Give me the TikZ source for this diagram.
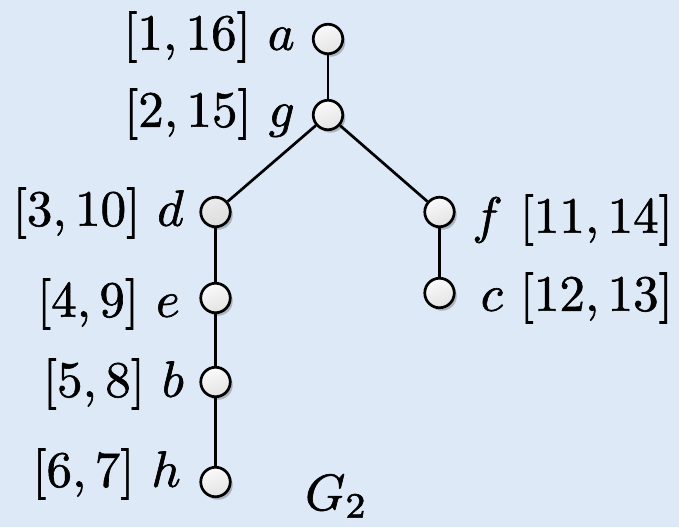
\documentclass[tikz,border=0pt]{standalone}
\usetikzlibrary{shadows}
\definecolor{bg}{RGB}{221,233,246}
\newcommand{\labtxt}[1]{\scalebox{5.1}{\special{pdf:literal direct 2 Tr 0.12 w}$#1$\special{pdf:literal direct 0 Tr}}}
\begin{document}
\begin{tikzpicture}[x=1pt,y=-1pt,
  vtx/.style={circle, draw=black, line width=2.7pt, minimum size=29.5pt, inner sep=0pt,
    top color=gray!4, bottom color=gray!22, shading angle=20,
    drop shadow={shadow xshift=2.5pt, shadow yshift=-3pt, opacity=0.22, fill=black}},
  vtxd/.style={vtx, top color=gray!16, bottom color=gray!27, shading angle=20},
  edge/.style={line width=2.7pt, draw=black},
  lab/.style={inner sep=0pt},
]
\useasboundingbox (0,0) rectangle (679,527);
\fill[bg] (0,0) rectangle (679,527);

% vertices
\node[vtx]  (a) at (328,39)  {};
\node[vtx]  (g) at (328,115) {};
\node[vtxd] (d) at (215.5,212) {};
\node[vtx]  (f) at (439.5,212) {};
\node[vtx]  (e) at (215.5,298) {};
\node[vtx]  (c) at (439.5,293) {};
\node[vtx]  (b) at (215.5,382) {};
\node[vtx]  (h) at (215.5,482) {};

% edges
\draw[edge] (a) -- (g);
\draw[edge] (g) -- (d);
\draw[edge] (g) -- (f);
\draw[edge] (d) -- (e);
\draw[edge] (e) -- (b);
\draw[edge] (b) -- (h);
\draw[edge] (f) -- (c);

% labels
\node[lab, anchor=east] (la) at (295,37)  {\labtxt{[1,16]\mskip 6mu a}};
\node[lab, anchor=east] (lg) at (295,114) {\labtxt{[2,15]\mskip 6mu g}};
\node[lab, anchor=east] (ld) at (184,213) {\labtxt{[3,10]\mskip 6mu d}};
\node[lab, anchor=east] (le) at (180,304) {\labtxt{[4,9]\mskip 6mu e}};
\node[lab, anchor=east] (lb) at (184,384) {\labtxt{[5,8]\mskip 6mu b}};
\node[lab, anchor=east] (lh) at (181,474) {\labtxt{[6,7]\mskip 6mu h}};
\node[lab, anchor=east] (lf) at (673,220) {\labtxt{f\mskip 6mu [11,14]}};
\node[lab, anchor=east] (lc) at (673,298) {\labtxt{c\mskip 6mu [12,13]}};

\node[lab, anchor=base west] (title) at (305,510) {\labtxt{G_2}};
\end{tikzpicture}
\end{document}
